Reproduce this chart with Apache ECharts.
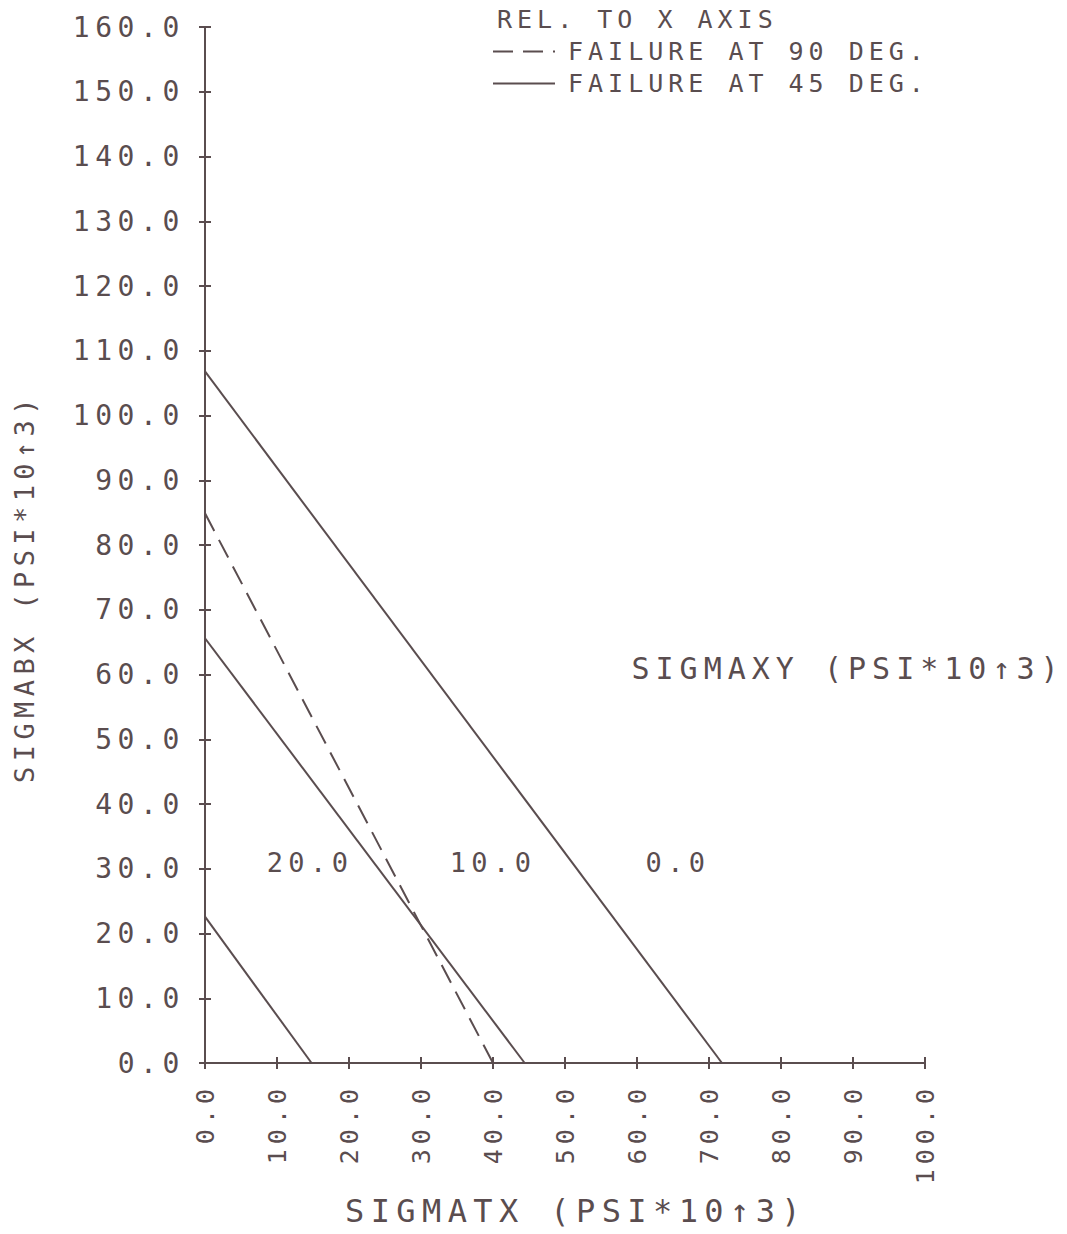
<!DOCTYPE html>
<html>
<head>
<meta charset="utf-8">
<script src="https://cdn.jsdelivr.net/npm/echarts@6/dist/echarts.min.js"></script>
<style>
  html, body { margin: 0; padding: 0; background: #ffffff; }
  #chart { width: 1067px; height: 1234px; }
  #chart text { letter-spacing: 0.2em; }
</style>
</head>
<body>
<div id="chart"></div>
<script>
// ---- data ----
const xTickValues = [0, 10, 20, 30, 40, 50, 60, 70, 80, 90, 100];
const yTickValues = [0, 10, 20, 30, 40, 50, 60, 70, 80, 90, 100, 110, 120, 130, 140, 150, 160];
const sigmaxyLevels = ['0.0', '10.0', '20.0'];
// failure at 45 deg (solid): intercepts on SIGMABX axis and SIGMATX axis
const solidYIntercept = [106.8, 65.6, 22.6];
const solidXIntercept = [71.8, 44.4, 14.8];
// failure at 90 deg (dashed)
const dashedYIntercept = [84.9];
const dashedXIntercept = [40.0];

const legendTitle = 'REL. TO X AXIS';
const name90 = 'FAILURE AT 90 DEG.';
const name45 = 'FAILURE AT 45 DEG.';
const xTitle = 'SIGMATX (PSI*10\u21913)';
const yTitle = 'SIGMABX (PSI*10\u21913)';
const annoTitle = 'SIGMAXY (PSI*10\u21913)';

// ---- styling ----
const INK = '#5a4d4f';
const FONT = '"DejaVu Sans Mono", "Liberation Mono", monospace';

const series = [];
dashedYIntercept.forEach((v, i) => {
  series.push({
    name: name90,
    type: 'line',
    symbol: 'none',
    showSymbol: false,
    data: [[0, v], [dashedXIntercept[i], 0]],
    lineStyle: { color: INK, width: 2, type: [20, 10] },
    itemStyle: { color: INK },
    silent: true
  });
});
sigmaxyLevels.forEach((lvl, i) => {
  series.push({
    name: name45,
    type: 'line',
    symbol: 'none',
    showSymbol: false,
    data: [[0, solidYIntercept[i]], [solidXIntercept[i], 0]],
    lineStyle: { color: INK, width: 2, type: 'solid' },
    itemStyle: { color: INK },
    silent: true
  });
});

const chart = echarts.init(document.getElementById('chart'), null, { renderer: 'svg' });

const baseAxis = {
  type: 'value',
  splitLine: { show: false },
  axisLine: { show: true, onZero: false, lineStyle: { color: INK, width: 2 } },
  axisTick: { show: true, length: 6, lineStyle: { color: INK, width: 2 } }
};

chart.setOption({
  animation: false,
  backgroundColor: '#ffffff',
  textStyle: { fontFamily: FONT, color: INK },
  grid: { left: 205, right: 142, top: 27, bottom: 171, outerBoundsMode: 'none', containLabel: false },
  title: {
    text: legendTitle,
    left: 492, top: 2,
    textStyle: { fontFamily: FONT, fontSize: 25, fontWeight: 'normal', color: INK }
  },
  legend: {
    show: true,
    orient: 'vertical',
    left: 487, top: 34,
    itemWidth: 62, itemHeight: 14, itemGap: 7,
    selectedMode: false,
    itemStyle: { opacity: 0 },
    data: [name90, name45],
    textStyle: { fontFamily: FONT, fontSize: 25, color: INK, padding: [0, 0, 0, 8] }
  },
  xAxis: [
    Object.assign({}, baseAxis, {
      min: xTickValues[0], max: xTickValues[xTickValues.length - 1], interval: 10,
      position: 'bottom',
      name: xTitle,
      nameLocation: 'middle',
      nameGap: 132,
      nameTextStyle: { fontFamily: FONT, fontSize: 32, color: INK, padding: [0, 0, 0, 22] },
      axisLabel: {
        rotate: 90, margin: 21,
        fontFamily: FONT, fontSize: 25, color: INK,
        formatter: v => v.toFixed(1)
      }
    }),
    Object.assign({}, baseAxis, {
      min: xTickValues[0], max: xTickValues[xTickValues.length - 1], interval: 10,
      position: 'bottom',
      axisLine: { show: false },
      axisTick: { show: true, inside: true, length: 6, lineStyle: { color: INK, width: 2 } },
      axisLabel: { show: false }
    })
  ],
  yAxis: [
    Object.assign({}, baseAxis, {
      min: yTickValues[0], max: yTickValues[yTickValues.length - 1], interval: 10,
      position: 'left',
      name: yTitle,
      nameLocation: 'middle',
      nameGap: 167,
      nameTextStyle: { fontFamily: FONT, fontSize: 27, color: INK, padding: [0, 86, 0, 0] },
      axisLabel: {
        margin: 20,
        fontFamily: FONT, fontSize: 28, color: INK,
        formatter: v => v.toFixed(1)
      }
    }),
    Object.assign({}, baseAxis, {
      min: yTickValues[0], max: yTickValues[yTickValues.length - 1], interval: 10,
      position: 'left',
      axisLine: { show: false },
      axisTick: { show: true, inside: true, length: 6, lineStyle: { color: INK, width: 2 } },
      axisLabel: { show: false }
    })
  ],
  graphic: [
    { type: 'text', x: 848, y: 668, silent: true,
      style: { text: annoTitle, fill: INK, font: '30px ' + FONT, textAlign: 'center', textVerticalAlign: 'middle' } },
    { type: 'text', x: 310, y: 862, silent: true,
      style: { text: sigmaxyLevels[2], fill: INK, font: '27px ' + FONT, textAlign: 'center', textVerticalAlign: 'middle' } },
    { type: 'text', x: 493, y: 862, silent: true,
      style: { text: sigmaxyLevels[1], fill: INK, font: '27px ' + FONT, textAlign: 'center', textVerticalAlign: 'middle' } },
    { type: 'text', x: 678, y: 862, silent: true,
      style: { text: sigmaxyLevels[0], fill: INK, font: '27px ' + FONT, textAlign: 'center', textVerticalAlign: 'middle' } }
  ],
  series: series
});
</script>
</body>
</html>
